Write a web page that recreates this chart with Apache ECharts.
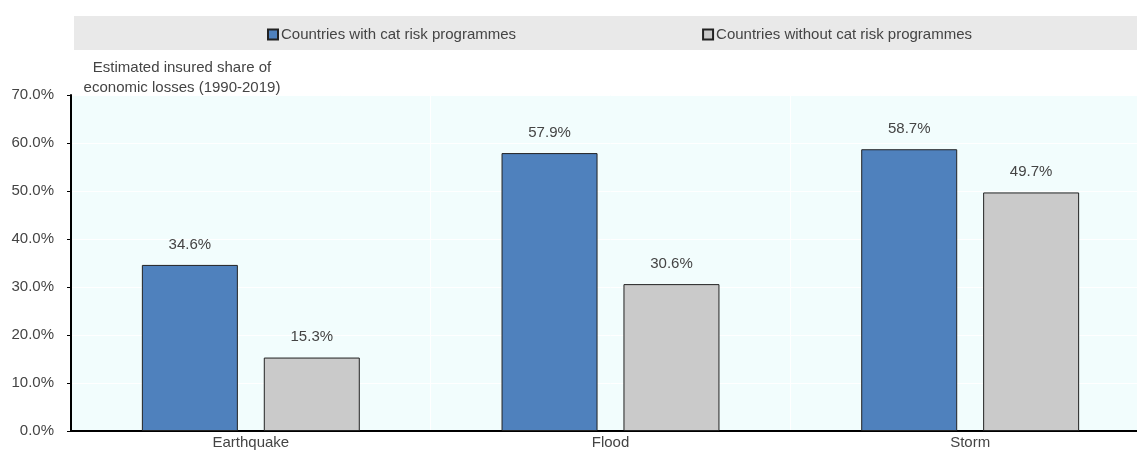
<!DOCTYPE html>
<html><head><meta charset="utf-8">
<script src="https://cdn.jsdelivr.net/npm/echarts@6/dist/echarts.min.js"></script>
<style>html,body{margin:0;padding:0;background:#fff;overflow:hidden}#c{width:1150px;height:453px}</style>
</head><body><div id="c"></div>
<script>
const categories = ["Earthquake", "Flood", "Storm"];
const withProg = [34.6, 57.9, 58.7];
const withoutProg = [15.3, 30.6, 49.7];
const seriesNames = ["Countries with cat risk programmes", "Countries without cat risk programmes"];
const yTitle = "Estimated insured share of\neconomic losses (1990-2019)";

const font = "Liberation Sans, Arial, sans-serif";
const chart = echarts.init(document.getElementById('c'), null, {renderer: 'canvas'});
const lbl = {show: true, position: 'top', distance: 13, color: '#444', fontSize: 15, fontFamily: font,
  formatter: p => p.value.toFixed(1) + '%'};
chart.setOption({
  animation: false,
  backgroundColor: '#fff',
  graphic: [{type: 'rect', z: -1, shape: {x: 74, y: 16, width: 1076, height: 34}, style: {fill: '#e9e9e9'}},
    {type: 'text', z: 10, style: {x: 182, y: 58, text: yTitle, font: '15px ' + font, fill: '#444', align: 'center', lineHeight: 20}}],
  legend: {
    top: 22, left: 262, itemWidth: 10, itemHeight: 10, itemGap: 186,
    textStyle: {fontSize: 15, fontFamily: font, color: '#444', padding: [0, 0, 0, -2]},
    data: seriesNames.map(n => ({name: n, icon: 'rect'}))
  },
  grid: {left: 71, right: 0, top: 95, bottom: 22, show: true, backgroundColor: '#f2fdfd', borderWidth: 0},
  xAxis: {
    type: 'category', data: categories,
    axisLine: {lineStyle: {color: '#000', width: 2}},
    axisTick: {inside: true, length: 5, lineStyle: {color: '#000'}},
    splitLine: {show: true, lineStyle: {color: '#fff', width: 1}},
    axisLabel: {color: '#444', fontSize: 15, fontFamily: font, margin: 4}
  },
  yAxis: {
    type: 'value', min: 0, max: 70, interval: 10,
    axisLine: {show: true, lineStyle: {color: '#000', width: 2}},
    axisTick: {show: true, length: 4, lineStyle: {color: '#000'}},
    splitLine: {lineStyle: {color: '#fff', width: 1}},
    axisLabel: {color: '#444', fontSize: 15, fontFamily: font, margin: 17, formatter: v => v.toFixed(1) + '%'}
  },
  series: [
    {name: seriesNames[0], type: 'bar', data: withProg, barWidth: 96, barGap: '27%',
      itemStyle: {color: '#4f81bd', borderColor: '#222', borderWidth: 1}, label: lbl},
    {name: seriesNames[1], type: 'bar', data: withoutProg, barWidth: 96,
      itemStyle: {color: '#cacaca', borderColor: '#222', borderWidth: 1}, label: lbl}
  ]
});
</script></body></html>
